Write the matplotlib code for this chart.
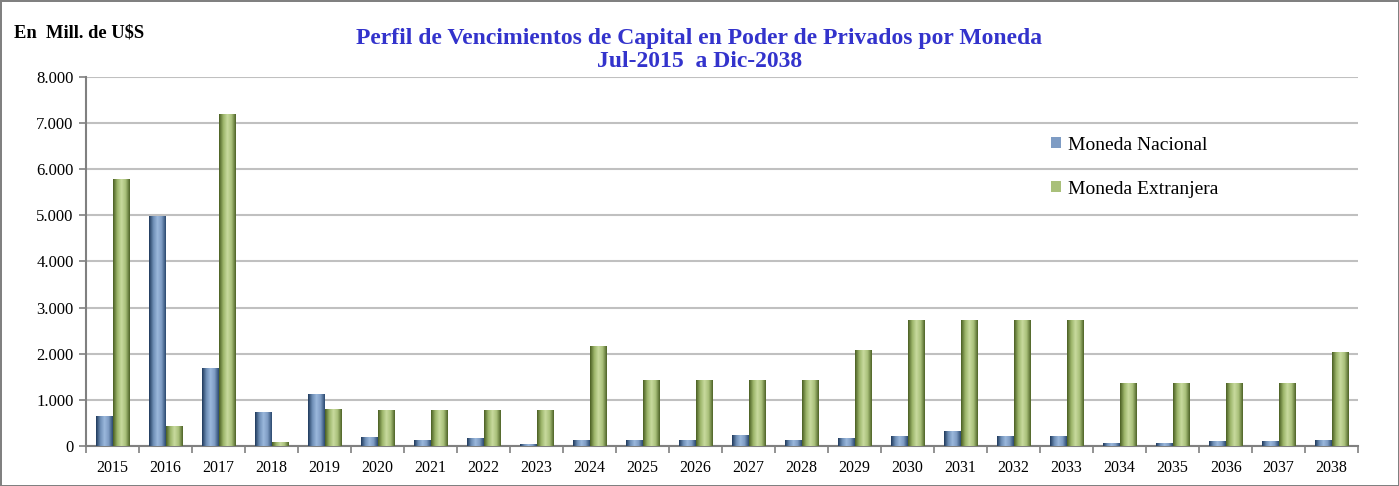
import numpy as np
import matplotlib
matplotlib.use("Agg")
import matplotlib.pyplot as plt
from matplotlib.colors import LinearSegmentedColormap
from matplotlib.ticker import FuncFormatter, FixedLocator

years = [str(y) for y in range(2015, 2039)]
nacional = [650, 4990, 1690, 730, 1120, 190, 140, 180, 50, 140, 140, 140,
            230, 140, 180, 220, 330, 220, 220, 65, 65, 110, 110, 130]
extranjera = [5780, 430, 7200, 80, 800, 780, 780, 780, 780, 2160, 1430, 1430,
              1430, 1430, 2080, 2740, 2740, 2740, 2740, 1370, 1370, 1370, 1370, 2030]

plt.rcParams['font.family'] = ['Liberation Serif', 'DejaVu Serif']

fig = plt.figure(figsize=(13.99, 4.86), dpi=100)
fig.patch.set_edgecolor('#808080')
fig.patch.set_linewidth(2)
ax = fig.add_axes([0.0615, 0.0823, 0.9093, 0.7593])

x = np.arange(len(years))
w = 0.31
cm_blue = LinearSegmentedColormap.from_list('b', ['#1F3A5C', '#6D8DB5', '#9BB8DC', '#7E9CC4', '#2C4A70'])
cm_green = LinearSegmentedColormap.from_list('g', ['#4A5E23', '#9CB56A', '#C8DA9E', '#A9C07A', '#4F6428'])
grad = np.linspace(0, 1, 64).reshape(1, -1)

b1 = ax.bar(x - w / 2, nacional, w, color='#7E9CC4', label='Moneda Nacional', zorder=3)
b2 = ax.bar(x + w / 2, extranjera, w, color='#A9C07A', label='Moneda Extranjera', zorder=3)
for bars, cm in ((b1, cm_blue), (b2, cm_green)):
    for r in bars:
        x0, y0 = r.get_x(), r.get_y()
        im = ax.imshow(grad, cmap=cm, aspect='auto', zorder=3.5,
                       extent=(x0, x0 + r.get_width(), y0, y0 + r.get_height()))
        im.set_clip_path(r)

ax.set_xlim(-0.5, len(years) - 0.5)
ax.set_ylim(0, 8000)
ax.set_xticks(x)
ax.set_xticklabels(years, fontsize=11.5)
ax.xaxis.set_minor_locator(FixedLocator(np.arange(-0.5, len(years), 1)))
ax.tick_params(axis='x', which='major', length=0, pad=10)
ax.tick_params(axis='x', which='minor', length=5, color='#808080', width=1.2)
ax.set_yticks(np.arange(0, 8001, 1000))
ax.yaxis.set_major_formatter(FuncFormatter(lambda v, p: f"{int(v):,}".replace(',', '.')))
ax.tick_params(axis='y', labelsize=12, length=5, color='#808080', width=1.2, pad=4)
ax.grid(axis='y', color='#C0C0C0', linewidth=1.5, zorder=0)
for s in ('top', 'right'):
    ax.spines[s].set_visible(False)
for s in ('left', 'bottom'):
    ax.spines[s].set_color('#808080')
    ax.spines[s].set_linewidth(1.5)

ax.legend(loc='upper left', bbox_to_anchor=(0.745, 0.886), frameon=False, fontsize=14,
          handlelength=0.5, handleheight=0.5, handletextpad=0.35, labelspacing=1.4)

fig.text(0.5, 0.852, "Perfil de Vencimientos de Capital en Poder de Privados por Moneda\nJul-2015  a Dic-2038",
         ha='center', va='bottom', color='#3333CC', fontsize=17, fontweight='bold', linespacing=1.15)
fig.text(0.01, 0.932, "En  Mill. de U$S", ha='left', va='center', fontsize=13.3, fontweight='bold')

fig.savefig('out.png', dpi=100)
